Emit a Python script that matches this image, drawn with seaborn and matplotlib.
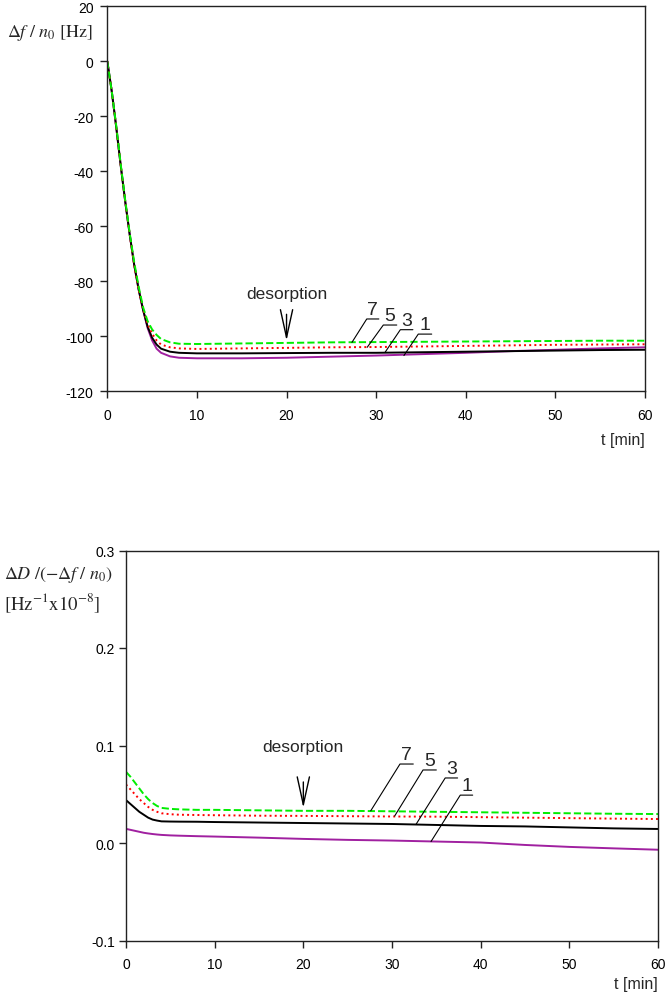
import numpy as np
import pandas as pd
import seaborn as sns
import matplotlib
matplotlib.use("Agg")
import matplotlib.pyplot as plt

# top panel: frequency shift, t in min
t_top = [0, 0.5, 1, 1.5, 2, 2.5, 3, 3.5, 4, 4.5, 5, 5.5, 6, 7, 8, 10,
         15, 20, 25, 30, 35, 40, 45, 50, 55, 60]
f_1 = [0, -11, -24, -38, -51, -63, -74, -83, -90.5, -97, -101.5, -104.5, -106, -107.3, -107.8, -108,
       -108, -107.8, -107.4, -107, -106.5, -106, -105.4, -104.9, -104.4, -104]
f_3 = [0, -11, -24, -38, -51, -63, -74, -83, -90.5, -96.5, -100.5, -103, -104.5, -105.6, -106, -106.2,
       -106.2, -106.1, -106, -106, -105.8, -105.6, -105.4, -105.2, -105, -104.9]
f_5 = [0, -11, -24, -38, -51, -63, -74, -83, -90, -95.5, -99, -101.5, -103, -104, -104.4, -104.6,
       -104.4, -104.2, -104, -103.9, -103.7, -103.5, -103.3, -103.1, -103, -102.9]
f_7 = [0, -11, -23.5, -37.5, -50.5, -62.5, -73, -82, -89.5, -94.5, -97.5, -99.5, -101, -102.2, -102.7, -102.8,
       -102.6, -102.4, -102.2, -102.1, -102, -101.9, -101.8, -101.7, -101.6, -101.6]

# bottom panel: dissipation / frequency
t_bot = [0, 0.5, 1, 1.5, 2, 2.5, 3, 3.5, 4, 5, 6, 8, 10,
         15, 20, 25, 30, 35, 40, 45, 50, 55, 60]
d_1 = [0.0145, 0.0135, 0.0125, 0.0115, 0.0105, 0.0098, 0.0092, 0.0087, 0.0083, 0.0078, 0.0075, 0.0070, 0.0066,
       0.0055, 0.0042, 0.0032, 0.0025, 0.0015, 0.0005, -0.002, -0.004, -0.0055, -0.0069]
d_3 = [0.044, 0.040, 0.036, 0.032, 0.029, 0.026, 0.024, 0.023, 0.0222, 0.022, 0.0219, 0.0218, 0.0215,
       0.021, 0.0205, 0.020, 0.0195, 0.0185, 0.0175, 0.017, 0.016, 0.015, 0.0144]
d_5 = [0.060, 0.055, 0.050, 0.045, 0.041, 0.037, 0.034, 0.032, 0.0305, 0.0295, 0.029, 0.0287, 0.0285,
       0.028, 0.0278, 0.0275, 0.0272, 0.027, 0.0265, 0.026, 0.0255, 0.025, 0.0246]
d_7 = [0.073, 0.068, 0.062, 0.056, 0.050, 0.045, 0.041, 0.038, 0.036, 0.035, 0.0345, 0.034, 0.034,
       0.0335, 0.033, 0.033, 0.0325, 0.032, 0.0315, 0.031, 0.0305, 0.030, 0.0297]

overtones = ["1", "3", "5", "7"]
colors = {"1": "#a020a0", "3": "black", "5": "red", "7": "#00ee00"}
styles = {"1": "-", "3": "-", "5": ":", "7": "--"}

sns.set_style("ticks")
plt.rcParams["font.family"] = ["Liberation Sans", "DejaVu Sans"]
plt.rcParams["mathtext.fontset"] = "stix"
plt.rcParams["axes.unicode_minus"] = False

W, H = 666, 1004
fig = plt.figure(figsize=(W / 100, H / 100), dpi=100)


def px(x, y):
    return x / W, 1 - y / H


ax1 = fig.add_axes([107.3 / W, 1 - 392.3 / H, (645 - 107.3) / W, 385 / H])
ax2 = fig.add_axes([126 / W, 1 - 941.5 / H, (658 - 126) / W, 390 / H])

top = {"1": f_1, "3": f_3, "5": f_5, "7": f_7}
bot = {"1": d_1, "3": d_3, "5": d_5, "7": d_7}
for k in overtones:
    df = pd.DataFrame({"t": t_top, "v": top[k]})
    sns.lineplot(data=df, x="t", y="v", ax=ax1, color=colors[k], linestyle=styles[k], lw=1.4)
    df = pd.DataFrame({"t": t_bot, "v": bot[k]})
    sns.lineplot(data=df, x="t", y="v", ax=ax2, color=colors[k], linestyle=styles[k], lw=1.4)

ax1.set_xlim(0, 60)
ax1.set_ylim(-120, 20)
ax1.set_yticks(np.arange(-120, 21, 20))
ax2.set_xlim(0, 60)
ax2.set_ylim(-0.1, 0.3)
ax2.set_yticks([-0.1, 0.0, 0.1, 0.2, 0.3])
ax2.yaxis.set_major_formatter(matplotlib.ticker.FormatStrFormatter("%.1f"))

for ax in (ax1, ax2):
    ax.set_xticks(np.arange(0, 61, 10))
    ax.set_xlabel("")
    ax.set_ylabel("")
    for s in ax.spines.values():
        s.set_visible(True)
        s.set_linewidth(1.0)
        s.set_color("#222222")
    ax.tick_params(direction="out", length=5, width=1, labelsize=10, colors="#222222", labelcolor="black")
    ax.tick_params(axis="x", pad=7)
ax1.tick_params(axis="y", pad=5)
ax2.tick_params(axis="y", pad=3)

arrow = dict(arrowstyle="->, head_length=1.0, head_width=0.22", lw=1.0, color="black",
             mutation_scale=20, shrinkA=0, shrinkB=0)

# top annotations
ax1.text(20, -84.6, "desorption", ha="center", va="center", fontsize=12.5)
ax1.annotate("", xy=(20, -101.6), xytext=(20, -92), arrowprops=arrow)
top_labels = [("7", 27.3, -102.2, 28.95, 30.3, -93.7),
              ("5", 29.0, -104.0, 30.8, 32.3, -95.9),
              ("3", 31.0, -105.8, 32.7, 34.1, -97.6),
              ("1", 33.1, -107.0, 34.7, 36.2, -99.2)]
for lab, cx, cy, u0, u1, uy in top_labels:
    ax1.plot([cx, u0, u1], [cy, uy, uy], color="black", lw=0.8)
    ax1.text((u0 + u1) / 2, uy + 0.4, lab, ha="center", va="bottom", fontsize=14)

# bottom annotations
ax2.text(20, 0.0985, "desorption", ha="center", va="center", fontsize=12.5)
ax2.annotate("", xy=(20, 0.036), xytext=(20, 0.0626), arrowprops=arrow)
bot_labels = [("7", 27.6, 0.033, 30.9, 32.4, 0.081),
              ("5", 30.3, 0.0277, 33.5, 35.0, 0.0749),
              ("3", 32.7, 0.019, 36.0, 37.4, 0.0667),
              ("1", 34.4, 0.0015, 37.7, 39.1, 0.0491)]
for lab, cx, cy, u0, u1, uy in bot_labels:
    ax2.plot([cx, u0, u1], [cy, uy, uy], color="black", lw=0.8)
    ax2.text((u0 + u1) / 2, uy + 0.0015, lab, ha="center", va="bottom", fontsize=14)

# axis titles
fig.text(*px(7, 33), r"$\Delta f\ /\ n_0\ \mathrm{[Hz]}$", ha="left", va="center", fontsize=13)
fig.text(*px(645, 440), "t [min]", ha="right", va="center", fontsize=11.5)
fig.text(*px(4, 575), r"$\Delta D\ /\left(-\Delta f\ /\ n_0\right)$", ha="left", va="center", fontsize=13)
fig.text(*px(4, 603), r"$\left[\mathrm{Hz}^{-1}\mathrm{x}10^{-8}\right]$", ha="left", va="center", fontsize=13.5)
fig.text(*px(658, 985), "t [min]", ha="right", va="center", fontsize=11.5)

fig.savefig("out.png", dpi=100)
